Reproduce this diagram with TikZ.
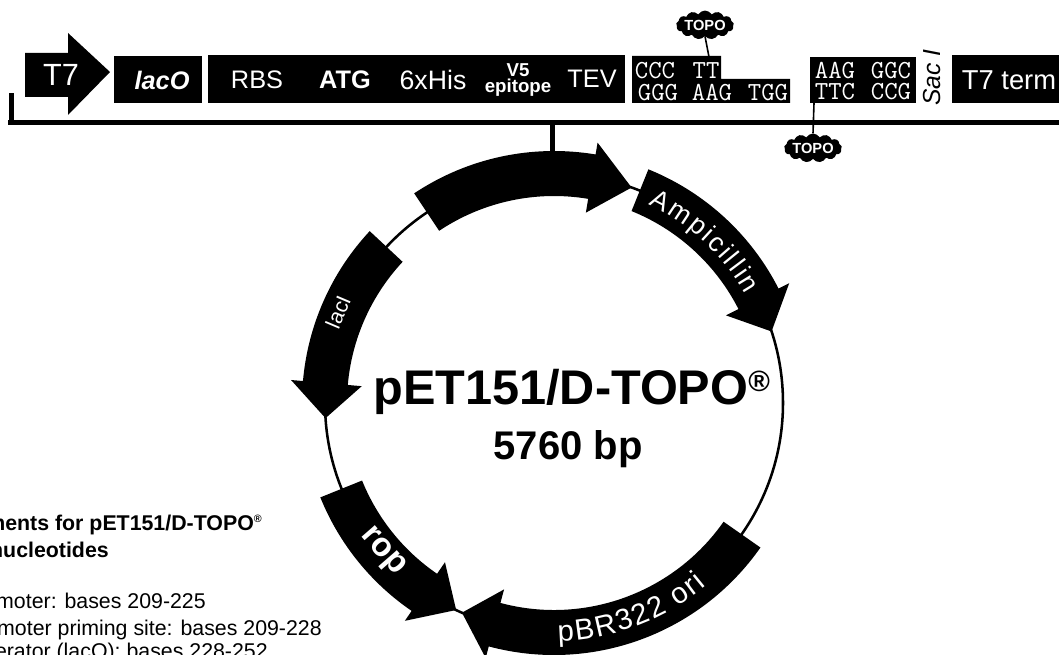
\documentclass[tikz,border=0pt]{standalone}
\usepackage{fontspec}
\setmainfont{Liberation Sans}
\usetikzlibrary{shapes.symbols,decorations.text}
\newcommand\fsz[1]{\fontsize{#1}{#1}\selectfont}
\newcommand\plasarrow[3]{%
  \fill[black] ([shift={(C)}]#1:207) arc[start angle=#1,end angle=#2,radius=207]
    -- ([shift={(C)}]#2:193) -- ([shift={(C)}]#3:229) -- ([shift={(C)}]#2:264)
    -- ([shift={(C)}]#2:252) arc[start angle=#2,end angle=#1,radius=252] -- cycle;}
\tikzset{
  x=0.75pt,y=0.75pt,
  wlabel/.style={text=white,inner sep=0pt,font=\fsz{19}},
  seqt/.style={text=white,inner sep=0pt,font=\ttfamily\fsz{19.5}},
  topo/.style={cloud,cloud puffs=13,cloud puff arc=120,aspect=2.6,fill=black,text=white,
     inner sep=-0.5pt,font=\bfseries\fsz{11}},
  thinline/.style={line width=1.2pt,black},
  lefttxt/.style={anchor=base east,inner sep=0pt,font=\fsz{16}},
}
\begin{document}
\begin{tikzpicture}
\useasboundingbox (0,-655) rectangle (1059,0);
\clip (0,-655) rectangle (1059,0);
\coordinate (C) at (554,-403);
% promoter arrow
\fill[black] (25,-53) -- (68,-53) -- (68,-33) -- (110,-72) -- (68,-115) -- (68,-97) -- (25,-97) -- cycle;
\node[text=white,inner sep=0pt,font=\fsz{23}] (t7) at (61,-75) {T7};
% boxes
\fill[black] (114,-56) rectangle (202,-103);
\node[wlabel,font=\bfseries\itshape\fsz{19}] (laco) at (162,-80) {lacO};
\fill[black] (208,-55) rectangle (625,-103);
\node[wlabel] (rbs) at (257,-80) {RBS};
\node[wlabel,font=\bfseries\fsz{19}] (atg) at (345,-80) {ATG};
\node[wlabel,font=\fsz{20}] (his) at (433,-80) {6xHis};
\node[wlabel,font=\bfseries\fsz{14},align=center] (v5) at (518,-80) {V5\\[-2pt]epitope};
\node[wlabel] (tev) at (592,-79) {TEV};
% first sequence box
\fill[black] (632,-56) -- (721,-56) -- (721,-79) -- (790,-79) -- (790,-103) -- (632,-103) -- cycle;
\node[seqt] (s1) at (655,-71) {CCC};
\node[seqt] (s2) at (706,-71) {TT};
\node[seqt] (s3) at (658,-93) {GGG};
\node[seqt] (s4) at (712,-93) {AAG};
\node[seqt] (s5) at (768,-93) {TGG};
% second sequence box
\fill[black] (810,-57) rectangle (916,-103);
\node[seqt] (s6) at (835,-71) {AAG};
\node[seqt] (s7) at (891,-71) {GGC};
\node[seqt] (s8) at (835,-92) {TTC};
\node[seqt] (s9) at (891,-92) {CCG};
\node[inner sep=0pt,rotate=90,font=\itshape\fsz{18.5}] (sac) at (932,-77.5) {Sac I};
\fill[black] (952,-55) rectangle (1059,-103);
\node[wlabel,font=\fsz{20.5}] (term) at (1009,-80) {T7 term};
% bar
\fill[black] (9,-93) rectangle (14,-125);
\fill[black] (8,-120) rectangle (1059,-125);
\coordinate (stemtop) at (552.5,-125);
\coordinate (stembot) at (552.5,-155);
\draw[line width=3.6pt,black] (stemtop) -- (stembot);
% TOPO marks
\node[topo] (topoa) at (705,-25) {TOPO};
\node[topo] (topob) at (813,-148) {TOPO};
\coordinate (a1) at (709,-57);
\coordinate (b1) at (814,-103);
\draw[thinline] (topoa.south) -- (a1);
\draw[thinline] (b1) -- (topob.north);
% plasmid
\draw[line width=1.9pt,black] (C) circle[radius=229];
\plasarrow{123.7}{80.5}{70.2}
\plasarrow{68}{27}{18.2}
\plasarrow{325}{255}{246.3}
\plasarrow{202}{235.6}{244.7}
\plasarrow{137}{175}{183.8}
% curved labels
\path[postaction={decorate,decoration={text along path,text align={fit to path},
  text={|\fsz{20}\color{white}|Ampicillin}}}]
  ([shift={(C)}]64.5:220) arc[start angle=64.5,end angle=29.5,radius=220];
\path[postaction={decorate,decoration={text along path,text align={fit to path},
  text={|\fsz{22}\color{white}|pBR322 ori}}}]
  ([shift={(C)}]271:238) arc[start angle=271,end angle=310,radius=238];
\node[wlabel,rotate=67,font=\fsz{16}] (laci) at (338,-312) {lacI};
\node[wlabel,rotate=-49,font=\bfseries\fsz{25}] (rop) at (382,-552) {rop};
% title
\node[anchor=base west,inner sep=0pt,font=\bfseries\fsz{36.5}] (title) at (373,-405)
  {pET151/D-TOPO\raisebox{10pt}{\fsz{22}®}};
\node[anchor=base,inner sep=0pt,font=\bfseries\fsz{30}] (size) at (568,-459) {5760 bp};
% left text
\node[lefttxt,font=\bfseries\fsz{16}] (l1) at (262,-530) {ments for pET151/D-TOPO\raisebox{5.5pt}{\fsz{8}®}};
\node[lefttxt,font=\bfseries\fsz{16}] (l2) at (109,-557) {nucleotides};
\node[lefttxt] (l3) at (206,-608) {moter: bases 209-225};
\node[lefttxt] (l4) at (322,-635) {moter priming site: bases 209-228};
\node[lefttxt] (l5) at (268,-658) {erator (lacO): bases 228-252};
\end{tikzpicture}
\end{document}
